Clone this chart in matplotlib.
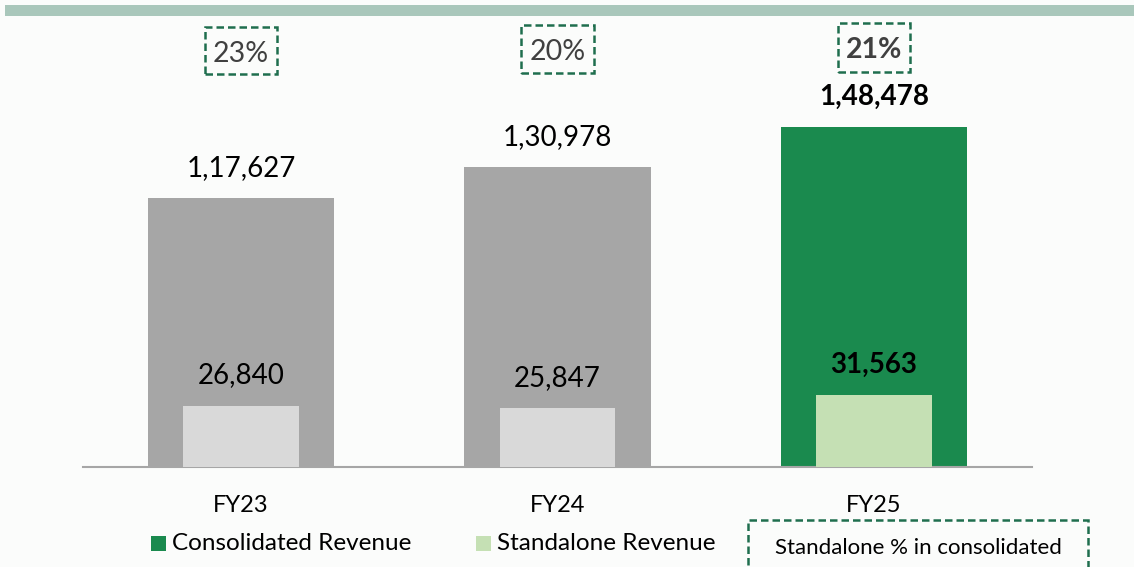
import matplotlib.pyplot as plt
from matplotlib.patches import Rectangle
from matplotlib.transforms import blended_transform_factory

# Data
years = ["FY23", "FY24", "FY25"]
consolidated = [117627, 130978, 148478]
standalone = [26840, 25847, 31563]
share_pct = [23, 20, 21]
cons_labels = ["1,17,627", "1,30,978", "1,48,478"]
stand_labels = ["26,840", "25,847", "31,563"]

plt.rcParams['font.family'] = ['Lato', 'DejaVu Sans']

W, H = 1134, 567
fig = plt.figure(figsize=(W / 100, H / 100), dpi=100)
fig.patch.set_facecolor('#fbfcfb')

# top decorative band
fig.patches.append(Rectangle((5 / W, 1 - 16 / H), 1, 11 / H, transform=fig.transFigure,
                             facecolor='#a9c7bb', edgecolor='none'))

# axes: x 83..1032, y 20..467 px
ax_top, ax_bot = 20, 467
ax = fig.add_axes([83 / W, 1 - ax_bot / H, (1032 - 83) / W, (ax_bot - ax_top) / H])
ax.set_facecolor('none')
ymax = (ax_bot - ax_top) / 340 * max(consolidated)
ax.set_xlim(-0.5, 2.5)
ax.set_ylim(0, ymax)

x = range(len(years))
outer_colors = ['#a6a6a6', '#a6a6a6', '#1a8a4e']
inner_colors = ['#d9d9d9', '#d9d9d9', '#c5e0b4']
ax.bar(x, consolidated, width=0.59, color=outer_colors, zorder=2)
ax.bar(x, standalone, width=0.365, color=inner_colors, zorder=3)

off = 30 / 340 * max(consolidated)
trans = blended_transform_factory(ax.transData, fig.transFigure)
box_w = 72 / 316
for i in x:
    bold = 'bold' if i == 2 else 'normal'
    ax.text(i, consolidated[i] + off, cons_labels[i], ha='center', va='center',
            fontsize=20, fontweight=bold, color='black')
    ax.text(i, standalone[i] + off, stand_labels[i], ha='center', va='center',
            fontsize=20, fontweight=bold, color='black', zorder=4)
    # percentage box (pixel y positions, rising slightly left to right)
    y_top = 27 - 2 * i
    y_bot = 74 - 1 * i
    ax.add_patch(Rectangle((i - box_w / 2, 1 - y_bot / H), box_w, (y_bot - y_top) / H,
                           transform=trans, facecolor='none', edgecolor='#1f6e4e',
                           linestyle=(0, (3, 1.6)), linewidth=1.8, clip_on=False))
    ax.text(i, 1 - ((y_top + y_bot) / 2 + 3) / H, f"{share_pct[i]}%", transform=trans,
            ha='center', va='center', fontsize=20.5, fontweight=bold, color='#404040')

for s in ['top', 'right', 'left']:
    ax.spines[s].set_visible(False)
ax.spines['bottom'].set_color('#a6a6a6')
ax.spines['bottom'].set_linewidth(1.5)
ax.set_yticks([])
ax.set_xticks(list(x))
ax.set_xticklabels(years, fontsize=17)
ax.tick_params(axis='x', length=0, pad=20)

# legend
fig.patches.append(Rectangle((151 / W, 1 - 551 / H), 15 / W, 15 / H, transform=fig.transFigure,
                             facecolor='#1a8a4e', edgecolor='none'))
fig.text(172 / W, 1 - 543 / H, "Consolidated Revenue", fontsize=17.5, va='center', ha='left')
fig.patches.append(Rectangle((476 / W, 1 - 551 / H), 15 / W, 15 / H, transform=fig.transFigure,
                             facecolor='#c5e0b4', edgecolor='none'))
fig.text(497 / W, 1 - 543 / H, "Standalone Revenue", fontsize=17.5, va='center', ha='left')

# note box
fig.patches.append(Rectangle((748 / W, 1 - 600 / H), 340 / W, 80 / H, transform=fig.transFigure,
                             facecolor='none', edgecolor='#1f6e4e', linestyle=(0, (3, 1.6)),
                             linewidth=1.8))
fig.text(918 / W, 1 - 548 / H, "Standalone % in consolidated", fontsize=16,
         va='center', ha='center')

fig.savefig("out.png", dpi=100, facecolor=fig.get_facecolor())
